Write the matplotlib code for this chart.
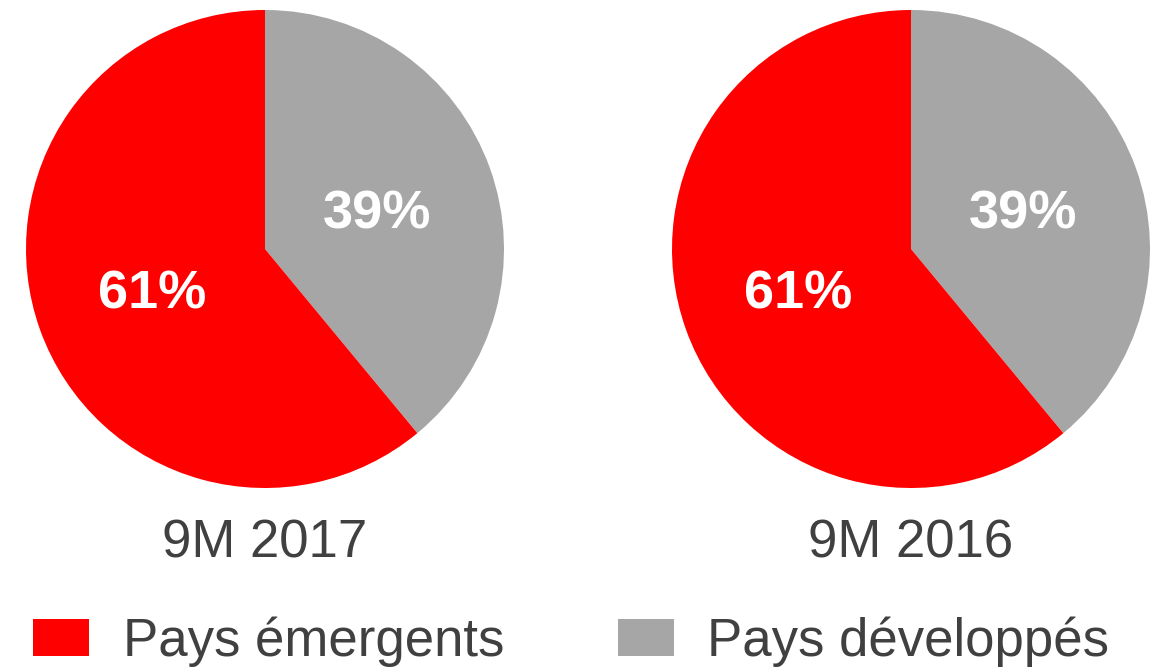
import matplotlib
matplotlib.use("Agg")
import matplotlib.pyplot as plt

plt.rcParams['font.family'] = ['Liberation Sans', 'DejaVu Sans']

categories = ['Pays développés', 'Pays émergents']
colors = ['#A6A6A6', '#FF0000']
periods = ['9M 2017', '9M 2016']
shares = [[39, 61], [39, 61]]

W, H = 1160, 667
fig = plt.figure(figsize=(W / 100, H / 100), dpi=100)

centers = [265, 911]
radius = 239
cy = 249
wedges = None
for cx, period, vals in zip(centers, periods, shares):
    ax = fig.add_axes([(cx - radius) / W, (H - cy - radius) / H,
                       2 * radius / W, 2 * radius / H])
    wedges, texts, autotexts = ax.pie(
        vals, colors=colors, startangle=90, counterclock=False,
        autopct='%d%%', pctdistance=0.5,
        wedgeprops=dict(linewidth=0),
        textprops=dict(color='white', fontsize=39, fontweight='bold',
                       va='center_baseline'))
    ax.set_xlim(-1, 1)
    ax.set_ylim(-1, 1)
    ax.set_aspect('equal')
    ax.axis('off')
    fig.text(cx / W, 1 - 544 / H, period, ha='center', va='center',
             fontsize=38, color='#404040')

# legend: emerging first, then developed
fig.legend([wedges[1], wedges[0]], [categories[1], categories[0]],
           loc='lower left', bbox_to_anchor=(33 / W, 0 / H), ncol=2,
           frameon=False, fontsize=38, labelcolor='#404040',
           handlelength=1.06, handleheight=0.72, handletextpad=0.64,
           columnspacing=2.15, borderpad=0, borderaxespad=0)

fig.savefig('out.png', dpi=100)
